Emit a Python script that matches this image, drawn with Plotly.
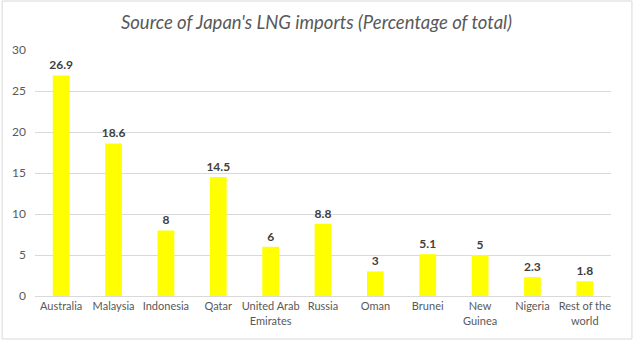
import plotly.graph_objects as go

categories = ["Australia", "Malaysia", "Indonesia", "Qatar", "United Arab<br>Emirates",
              "Russia", "Oman", "Brunei", "New<br>Guinea", "Nigeria", "Rest of the<br>world"]
values = [26.9, 18.6, 8, 14.5, 6, 8.8, 3, 5.1, 5, 2.3, 1.8]
labels = ["26.9", "18.6", "8", "14.5", "6", "8.8", "3", "5.1", "5", "2.3", "1.8"]
y_ticks = [0, 5, 10, 15, 20, 25, 30]

fig = go.Figure(go.Bar(
    x=categories, y=values, text=labels, textposition="outside",
    marker=dict(color="#FFFF00", line=dict(width=0)),
    textfont=dict(family="Lato, Open Sans, sans-serif", size=12, color="#404040", weight="bold"),
    cliponaxis=False,
))

fig.update_layout(
    width=633, height=340,
    paper_bgcolor="white", plot_bgcolor="white",
    margin=dict(l=33, r=22, t=50, b=44),
    bargap=0.68,
    showlegend=False,
    uniformtext=dict(minsize=12, mode="show"),
    title=dict(text="<i>Source of Japan's LNG imports (Percentage of total)</i>",
               x=0.5, xanchor="center", y=0.935, yanchor="middle",
               font=dict(family="Lato, Open Sans, sans-serif", size=18.5, color="#595959")),
    xaxis=dict(showgrid=False, showline=True, linecolor="#D9D9D9", ticks="",
               tickfont=dict(family="Lato, sans-serif", size=11, color="#595959")),
    yaxis=dict(range=[0, 30], tickvals=y_ticks, showgrid=True, gridcolor="#D9D9D9", gridwidth=1,
               zeroline=False, showline=False, ticks="", ticklabelstandoff=8,
               tickfont=dict(family="Lato, Open Sans, sans-serif", size=12, color="#595959")),
    shapes=[dict(type="rect", xref="paper", yref="paper", x0=-33/578, x1=1+21/578,
                 y0=-43/246, y1=1+49/246, line=dict(color="#D9D9D9", width=1))],
)

fig.write_html("out.html")
